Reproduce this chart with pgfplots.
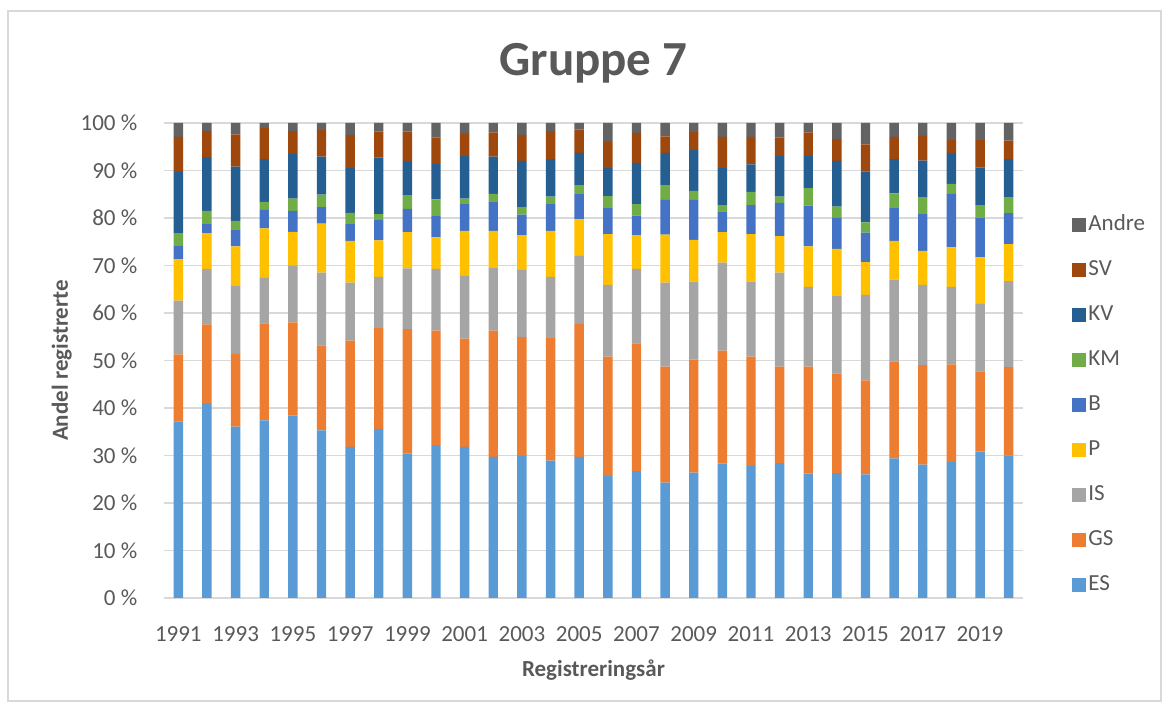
\documentclass[border=0pt]{standalone}
\usepackage{fontspec}
\setmainfont{Carlito}
\usepackage{pgfplots}
\usepackage{pgfplotstable}
\pgfplotsset{compat=1.18}

\definecolor{cES}{HTML}{5B9BD5}
\definecolor{cGS}{HTML}{ED7D31}
\definecolor{cIS}{HTML}{A5A5A5}
\definecolor{cP}{HTML}{FFC000}
\definecolor{cB}{HTML}{4472C4}
\definecolor{cKM}{HTML}{70AD47}
\definecolor{cKV}{HTML}{255E91}
\definecolor{cSV}{HTML}{9E480E}
\definecolor{cAndre}{HTML}{636363}
\definecolor{txt}{HTML}{595959}
\definecolor{gridc}{HTML}{D9D9D9}

% andel (%) per registreringsaar
\pgfplotstableread{
year ES GS IS P B KM KV SV Andre
1991 37.2 14.1 11.3 8.7 2.8 2.6 13.0 7.4 2.9
1992 41.0 16.6 11.7 7.5 1.9 2.8 11.3 5.5 1.7
1993 36.1 15.3 14.4 8.2 3.6 1.8 11.4 6.8 2.4
1994 37.4 20.4 9.6 10.4 3.9 1.7 9.0 6.5 1.1
1995 38.4 19.6 12.0 7.1 4.4 2.6 9.4 4.8 1.7
1996 35.3 17.9 15.3 10.3 3.5 2.6 8.0 5.6 1.5
1997 31.8 22.4 12.2 8.8 3.5 2.4 9.4 7.0 2.5
1998 35.6 21.2 10.8 7.7 4.3 1.2 11.9 5.5 1.8
1999 30.4 26.2 12.8 7.6 4.9 2.9 7.2 6.2 1.8
2000 32.2 24.1 13.0 6.6 4.5 3.5 7.5 5.5 3.1
2001 31.8 22.8 13.2 9.5 5.6 1.2 8.9 4.7 2.3
2002 29.7 26.6 13.3 7.7 6.2 1.6 7.8 5.1 2.0
2003 29.9 25.0 14.2 7.3 4.3 1.5 9.8 5.5 2.5
2004 28.9 25.8 12.9 9.7 5.6 1.6 7.9 5.9 1.7
2005 29.7 28.0 14.3 7.7 5.5 1.7 6.8 4.9 1.4
2006 25.7 25.1 15.1 10.7 5.5 2.5 5.9 5.5 4.0
2007 26.7 26.9 15.7 7.1 4.1 2.4 8.7 6.3 2.1
2008 24.3 24.4 17.7 10.1 7.3 3.1 6.8 3.5 2.8
2009 26.4 23.8 16.4 8.8 8.4 1.9 8.6 3.8 1.9
2010 28.3 23.8 18.5 6.4 4.4 1.3 7.8 6.6 2.9
2011 27.8 23.0 15.8 10.0 6.1 2.8 5.8 5.8 2.9
2012 28.4 20.3 19.8 7.7 7.0 1.3 8.6 3.8 3.1
2013 26.2 22.5 16.8 8.5 8.6 3.7 6.8 4.9 2.0
2014 26.3 21.0 16.4 9.8 6.5 2.4 9.6 4.6 3.4
2015 26.0 19.8 18.0 6.9 6.2 2.2 10.7 5.7 4.5
2016 29.4 20.4 17.2 8.2 6.9 3.1 7.2 4.7 2.9
2017 28.1 20.9 16.9 7.2 7.7 3.5 7.8 5.2 2.7
2018 28.6 20.6 16.3 8.3 11.3 2.1 6.5 2.7 3.6
2019 30.8 16.9 14.2 9.8 8.4 2.6 7.9 5.8 3.6
2020 30.0 18.6 18.1 7.8 6.5 3.3 8.1 3.9 3.7
}\data

\begin{document}
\begin{tikzpicture}
\path[use as bounding box] (0,0) rectangle (584.5pt,355.5pt);
\draw[gridc,line width=0.6pt] (4pt,5pt) rectangle (580.5pt,350pt);
\begin{axis}[at={(82pt,56.5pt)},anchor=south west,
scale only axis,
width=429.5pt,
height=237.5pt,
ybar stacked,
bar width=4.7pt,
xmin=1990.5,xmax=2020.5,
ymin=0,ymax=100,
enlargelimits=false,
axis x line=bottom,
axis y line=left,
y axis line style={draw=none},
x axis line style={-,draw=gridc,line width=0.75pt},
tick style={draw=none},
ymajorgrids,
major grid style={gridc,line width=0.75pt},
xtick={1991,1993,1995,1997,1999,2001,2003,2005,2007,2009,2011,2013,2015,2017,2019},
xticklabels={1991,1993,1995,1997,1999,2001,2003,2005,2007,2009,2011,2013,2015,2017,2019},
ytick={0,10,20,30,40,50,60,70,80,90,100},
yticklabels={0 \%,10 \%,20 \%,30 \%,40 \%,50 \%,60 \%,70 \%,80 \%,90 \%,100 \%},
tick label style={font=\fontsize{11.5}{13}\selectfont,text=txt},
xticklabel style={anchor=base,yshift=-19.5pt},
yticklabel style={anchor=east,xshift=-7.7pt},
title={Gruppe 7},
title style={font=\fontsize{24.5}{28}\selectfont\bfseries,text=txt,at={(0.5,1.074)},anchor=base},
xlabel={Registreringsår},
ylabel={Andel registrerte},
label style={font=\fontsize{11.5}{13}\selectfont\bfseries,text=txt},
xlabel style={at={(0.5,-0.152)},anchor=center},
ylabel style={at={(-0.119,0.5)},anchor=center},
reverse legend,
legend style={at={(1.057,0.406)},anchor=west,draw=none,fill=none,inner sep=0pt,
  font=\fontsize{11.5}{13}\selectfont,text=txt,row sep=10pt,
  nodes={text height=8pt,text depth=2.5pt,inner sep=1pt}},
legend cell align=left,
legend image code/.code={\fill[#1,draw=none] (0pt,-3.5pt) rectangle (7pt,3.5pt);},
every axis plot/.append style={draw=none},
]
\addplot[fill=cES] table[x=year,y=ES] {\data};
\addlegendentry{ES}
\addplot[fill=cGS] table[x=year,y=GS] {\data};
\addlegendentry{GS}
\addplot[fill=cIS] table[x=year,y=IS] {\data};
\addlegendentry{IS}
\addplot[fill=cP] table[x=year,y=P] {\data};
\addlegendentry{P}
\addplot[fill=cB] table[x=year,y=B] {\data};
\addlegendentry{B}
\addplot[fill=cKM] table[x=year,y=KM] {\data};
\addlegendentry{KM}
\addplot[fill=cKV] table[x=year,y=KV] {\data};
\addlegendentry{KV}
\addplot[fill=cSV] table[x=year,y=SV] {\data};
\addlegendentry{SV}
\addplot[fill=cAndre] table[x=year,y=Andre] {\data};
\addlegendentry{Andre}
\end{axis}
\end{tikzpicture}
\end{document}
